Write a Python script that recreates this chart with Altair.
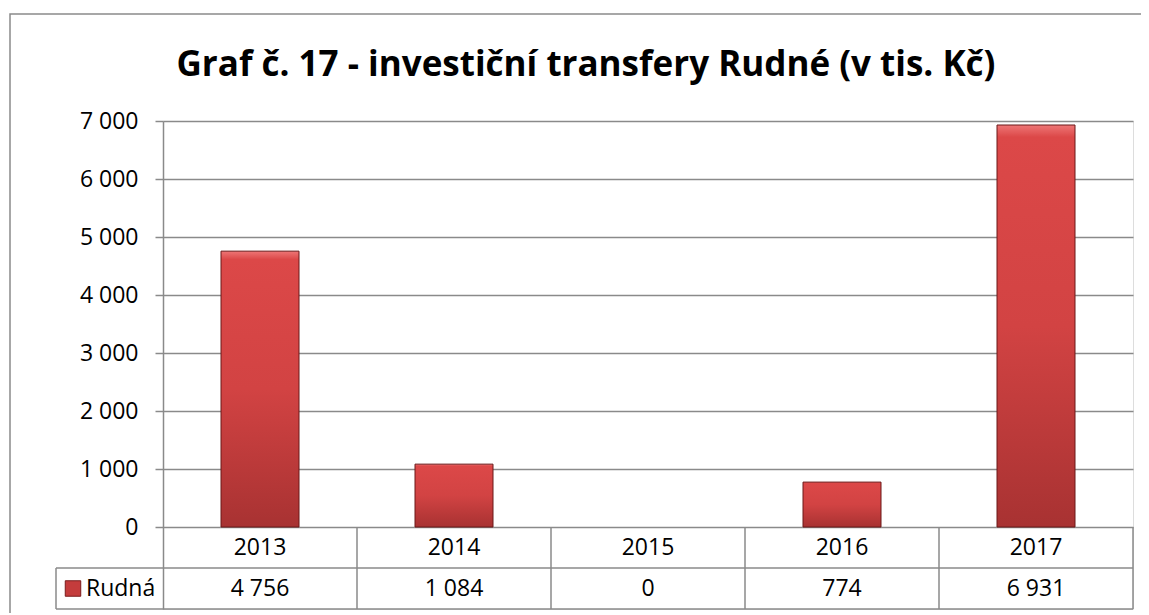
import altair as alt
import pandas as pd

# ---- data ----
years = ["2013", "2014", "2015", "2016", "2017"]
values = [4756, 1084, 0, 774, 6931]
series_name = "Rudná"
title_text = "Graf č. 17 - investiční transfery Rudné (v tis. Kč)"
y_ticks = [0, 1000, 2000, 3000, 4000, 5000, 6000, 7000]

# ---- layout constants (pixels) ----
W, H = 970, 488          # plot + table area
PLOT_H = 406             # height of bar area
ROW_H = 41               # table row height
COL_W = W / len(years)
BAR_W = 78
LEGEND_W = 107
FONT = "Open Sans"
GRID = "#8a8a8a"

upp = max(y_ticks) / PLOT_H
row1 = -ROW_H * upp
row2 = -2 * ROW_H * upp
half_bar = BAR_W / COL_W / 2
legend_left = -LEGEND_W / COL_W

def fmt(v):
    return f"{v:,}".replace(",", " ")

bars_df = pd.DataFrame({
    "year": years,
    "value": values,
    "x0": [i + 0.5 - half_bar for i in range(len(years))],
    "x1": [i + 0.5 + half_bar for i in range(len(years))],
})

cells_df = pd.DataFrame({
    "xc": [i + 0.5 for i in range(len(years))],
    "year": years,
    "label": [fmt(v) for v in values],
    "y_year": [row1 / 2] * len(years),
    "y_val": [(row1 + row2) / 2] * len(years),
})

rules = [
    {"x": legend_left, "x2": len(years), "y": row1, "y2": row1},
    {"x": legend_left, "x2": len(years), "y": row2, "y2": row2},
    {"x": legend_left, "x2": legend_left, "y": row1, "y2": row2},
]
for k in range(1, len(years) + 1):
    rules.append({"x": k, "x2": k, "y": 0, "y2": row2})
rules_df = pd.DataFrame(rules)

legend_df = pd.DataFrame({
    "name": [series_name],
    "xs": [legend_left + 17 / COL_W],
    "xt": [legend_left + 30 / COL_W],
    "y": [(row1 + row2) / 2],
})

xs = alt.Scale(domain=[0, len(years)], nice=False, zero=False)
ys = alt.Scale(domain=[row2, max(y_ticks)], nice=False, zero=False)

bar_grad = alt.LinearGradient(
    gradient="linear", x1=0, y1=0, x2=0, y2=1,
    stops=[
        alt.GradientStop(color="#ee7676", offset=0),
        alt.GradientStop(color="#dc4848", offset=0.03),
        alt.GradientStop(color="#d24343", offset=0.5),
        alt.GradientStop(color="#a83232", offset=1),
    ],
)

base_axis_y = alt.Axis(
    values=y_ticks,
    labelExpr="replace(format(datum.value, ','), ',', ' ')",
    grid=True, gridColor=GRID, gridWidth=1.5,
    domainColor=GRID, domainWidth=1.5,
    tickColor=GRID, tickWidth=1.5, tickSize=8,
    labelFont=FONT, labelFontSize=23, labelColor="#000000",
    labelPadding=17, title=None,
)

frame = alt.Chart(pd.DataFrame({"a": [0]})).mark_rect(
    fill=None, stroke="#8a8a8a", strokeWidth=1.5
).encode(
    x=alt.value(-153), x2=alt.value(1200),
    y=alt.value(-107), y2=alt.value(700),
)

title_mark = alt.Chart(pd.DataFrame({"t": [title_text]})).mark_text(
    font=FONT, fontSize=35, fontWeight="bold", color="#000000",
    align="center", baseline="alphabetic"
).encode(
    x=alt.value(423), y=alt.value(-45), text="t:N",
)

bars = alt.Chart(bars_df).transform_filter("datum.value > 0").mark_rect(
    fill=bar_grad, stroke="#6a1818", strokeWidth=1
).encode(
    x=alt.X("x0:Q", scale=xs, axis=None),
    x2="x1:Q",
    y=alt.Y("value:Q", scale=ys, axis=base_axis_y),
    y2=alt.datum(0),
)

grid_rules = alt.Chart(rules_df).mark_rule(color=GRID, strokeWidth=1.5).encode(
    x=alt.X("x:Q", scale=xs, axis=None), x2="x2:Q",
    y=alt.Y("y:Q", scale=ys), y2="y2:Q",
)

year_text = alt.Chart(cells_df).mark_text(
    font=FONT, fontSize=23, color="#000000", align="center", baseline="middle"
).encode(
    x=alt.X("xc:Q", scale=xs, axis=None),
    y=alt.Y("y_year:Q", scale=ys),
    text="year:N",
)

val_text = alt.Chart(cells_df).mark_text(
    font=FONT, fontSize=23, color="#000000", align="center", baseline="middle"
).encode(
    x=alt.X("xc:Q", scale=xs, axis=None),
    y=alt.Y("y_val:Q", scale=ys),
    text="label:N",
)

legend_sq = alt.Chart(legend_df).mark_point(
    shape="square", filled=True, size=240, fill="#c43c3c",
    stroke="#7a1c1c", strokeWidth=1, opacity=1
).encode(
    x=alt.X("xs:Q", scale=xs, axis=None),
    y=alt.Y("y:Q", scale=ys),
)

legend_txt = alt.Chart(legend_df).mark_text(
    font=FONT, fontSize=23, color="#000000", align="left", baseline="middle"
).encode(
    x=alt.X("xt:Q", scale=xs, axis=None),
    y=alt.Y("y:Q", scale=ys),
    text="name:N",
)

chart = alt.layer(
    frame, title_mark, bars, grid_rules, year_text, val_text, legend_sq, legend_txt
).properties(
    width=W, height=H,
    autosize=alt.AutoSizeParams(type="none"),
    padding={"left": 155, "top": 113, "right": 8, "bottom": 4},
).configure_view(stroke=None).configure(background="#ffffff")

chart.save("out.html", embed_options={"renderer": "svg", "actions": False})
